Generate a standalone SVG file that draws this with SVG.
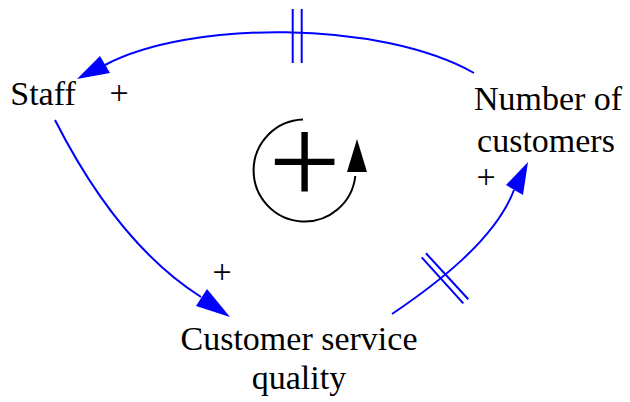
<svg xmlns="http://www.w3.org/2000/svg" width="630" height="402" viewBox="0 0 630 402">
<style>
.lbl{font-size:34px;fill:#000;text-anchor:middle}
.big{font-size:128px;fill:#000;text-anchor:middle}
.link{fill:none;stroke:#0000FF;stroke-width:2}
.head{fill:#0000FF;stroke:none}
.delay{stroke:#0000FF;stroke-width:2}
</style>
<rect width="630" height="402" fill="#fff"/>
<g id="connectors" font-family="Liberation Serif, Times New Roman, serif">
  <path class="link" d="M474,73 C380,20 190,20 105,65"/>
  <polygon class="head" points="77,79 100,56 110,73"/>
  <line class="delay" x1="292.7" y1="9" x2="292.7" y2="63"/>
  <line class="delay" x1="301.7" y1="9" x2="301.7" y2="63"/>
  <path class="link" d="M55,120 C88,185 135,255 201,297"/>
  <polygon class="head" points="230,317 207,289 196,306"/>
  <path class="link" d="M392,314 C435,285 495,240 514,190"/>
  <polygon class="head" points="528,162 506,185 523,195"/>
  <line class="delay" x1="421.7" y1="257.3" x2="463.3" y2="303.3"/>
  <line class="delay" x1="426" y1="253.3" x2="468.3" y2="299.3"/>
  <text class="lbl" font-family="Liberation Serif, serif" x="119" y="104">+</text>
  <text class="lbl" font-family="Liberation Serif, serif" x="222" y="283">+</text>
  <text class="lbl" font-family="Liberation Serif, serif" x="486" y="188">+</text>
</g>
<g id="staff"><text class="lbl" font-family="Liberation Serif, serif" x="43" y="105">Staff</text></g>
<g id="customers"><text class="lbl" font-family="Liberation Serif, serif" x="548" y="110">Number of</text><text class="lbl" font-family="Liberation Serif, serif" x="546" y="152">customers</text></g>
<g id="quality"><text class="lbl" font-family="Liberation Serif, serif" x="299" y="350">Customer service</text><text class="lbl" font-family="Liberation Serif, serif" x="299" y="389">quality</text></g>
<g id="loop">
  <path d="M303,119.5 A51,51 0 1 0 355.3,176" fill="none" stroke="#000" stroke-width="2"/>
  <polygon points="347,172 367,172 357,139" fill="#000"/>
  <text class="big" font-family="Liberation Serif, serif" x="304.5" y="204">+</text>
</g>
</svg>
